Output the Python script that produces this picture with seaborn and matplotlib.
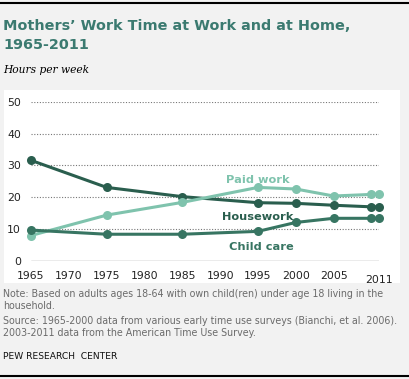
import matplotlib
matplotlib.use("Agg")
import matplotlib.pyplot as plt
import seaborn as sns
import pandas as pd
from matplotlib.lines import Line2D

years = [1965, 1975, 1985, 1995, 2000, 2005, 2010, 2011]
housework = [31.6, 23.1, 20.2, 18.3, 18.1, 17.5, 17.0, 17.0]
paid_work = [8.0, 14.4, 18.4, 23.1, 22.6, 20.4, 20.9, 21.0]
child_care = [9.7, 8.4, 8.4, 9.3, 12.1, 13.4, 13.4, 13.4]
series_names = ["Housework", "Paid work", "Child care"]
xtick_labels = ["1965", "1970", "1975", "1980", "1985", "1990", "1995", "2000", "2005", "2011"]
xtick_pos = [1965, 1970, 1975, 1980, 1985, 1990, 1995, 2000, 2005, 2011]
yticks = [0, 10, 20, 30, 40, 50]

colors = {"Housework": "#2a5e4e", "Paid work": "#7fc3ad", "Child care": "#377562"}

df = pd.concat([
    pd.DataFrame({"year": years, "hours": housework, "series": "Housework"}),
    pd.DataFrame({"year": years, "hours": paid_work, "series": "Paid work"}),
    pd.DataFrame({"year": years, "hours": child_care, "series": "Child care"}),
])

sns.set_style("white")
plt.rcParams["font.family"] = ["DejaVu Sans"]

W, H = 409, 379
fig = plt.figure(figsize=(W / 100, H / 100), dpi=100, facecolor="#f2f2f2")

# white panel
fig.patches.append(plt.Rectangle((4 / W, 1 - 283 / H), 396 / W, 193 / H,
                                 transform=fig.transFigure, facecolor="white",
                                 edgecolor="none", zorder=-1))
# top / bottom black rules
for yy in (3, 376):
    fig.add_artist(Line2D([0, 1], [1 - yy / H, 1 - yy / H], transform=fig.transFigure,
                          color="black", lw=1.5))

ax = fig.add_axes([31 / W, 118 / H, 348 / W, 159.3 / H])
ax.set_facecolor("none")
ax.set_zorder(2)

sns.lineplot(data=df, x="year", y="hours", hue="series", hue_order=series_names,
             palette=colors, marker="o", markersize=6.5, markeredgewidth=0,
             linewidth=2.2, legend=False, ax=ax, zorder=3, clip_on=False)

ax.set_xlim(1965, 2011)
ax.set_ylim(0, 50)
for s in ax.spines.values():
    s.set_visible(False)
ax.axhline(0, color="#999999", lw=1.0, zorder=1)
for v in yticks[1:]:
    ax.axhline(v, color="#777777", lw=0.8, ls=(0, (1, 1.5)), zorder=1)

ax.set_yticks(yticks)
ax.set_yticklabels([str(v) for v in yticks], fontsize=7.8, color="#222222")
ax.set_xticks(xtick_pos)
ax.set_xticklabels(xtick_labels, fontsize=7.8, color="#222222")
ax.tick_params(axis="both", length=0)
ax.tick_params(axis="y", pad=7.2)
ax.tick_params(axis="x", pad=7.5)
for lbl in ax.get_xticklabels():
    if lbl.get_text() == "2011":
        lbl.set_y(-0.02)
ax.set_xlabel("")
ax.set_ylabel("")

# series labels
ax.text(1995, 25.4, "Paid work", color=colors["Paid work"], fontsize=8.2,
        fontweight="bold", ha="center", va="center")
ax.text(1995, 13.7, "Housework", color=colors["Housework"], fontsize=8.2,
        fontweight="bold", ha="center", va="center")
ax.text(1995.5, 4.5, "Child care", color=colors["Child care"], fontsize=8.2,
        fontweight="bold", ha="center", va="center")

# titles
fig.text(3 / W, 1 - 19.5 / H, "Mothers\u2019 Work Time at Work and at Home,\n1965-2011",
         color="#3b7a70", fontsize=10.4, fontweight="bold", ha="left", va="top",
         linespacing=1.4)
fig.text(3 / W, 1 - 70 / H, "Hours per week", fontfamily="DejaVu Serif",
         style="italic", fontsize=7.7, color="black", ha="left", va="center")

# notes
fig.text(3 / W, 1 - 289 / H,
         "Note: Based on adults ages 18-64 with own child(ren) under age 18 living in the\nhousehold.",
         fontsize=6.85, color="#6b6b6b", ha="left", va="top", linespacing=1.2)
fig.text(3 / W, 1 - 316 / H,
         "Source: 1965-2000 data from various early time use surveys (Bianchi, et al. 2006).\n2003-2011 data from the American Time Use Survey.",
         fontsize=6.85, color="#6b6b6b", ha="left", va="top", linespacing=1.2)
fig.text(3 / W, 1 - 352 / H, "PEW RESEARCH  CENTER", fontsize=6.6, color="#111111",
         ha="left", va="top")

fig.savefig("out.png", dpi=100, facecolor=fig.get_facecolor())
